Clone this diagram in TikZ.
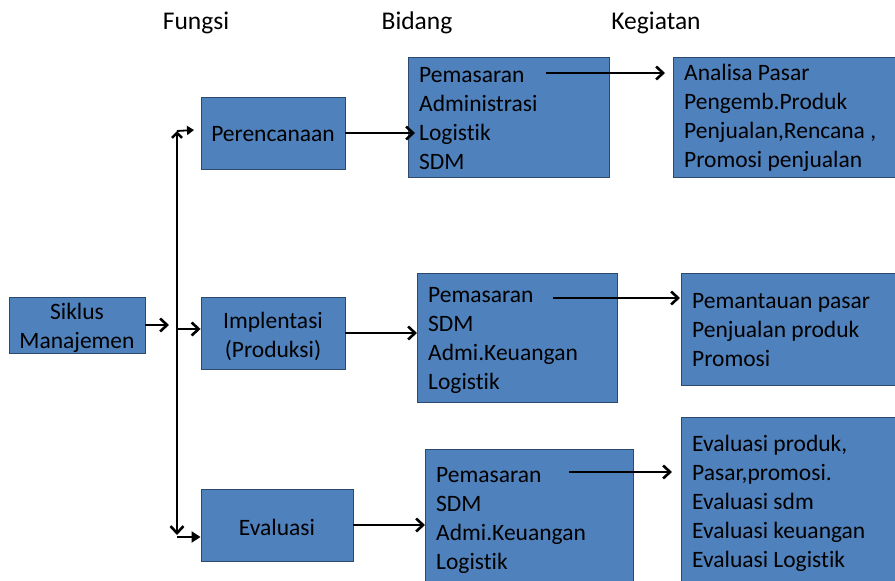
\documentclass[tikz,border=0pt]{standalone}
\usepackage{fontspec}
\setmainfont{Carlito}[Ligatures=NoCommon]
\usetikzlibrary{arrows.meta}
\definecolor{boxblue}{HTML}{4F81BD}
\definecolor{boxline}{HTML}{2C4A6E}
\begin{document}
\begin{tikzpicture}[x=1pt,y=-1pt,
  box/.style={draw=boxline, line width=0.9pt, fill=boxblue, inner sep=0pt},
  lbox/.style={box, anchor=north west},
  txt/.style={inner sep=0pt, font=\fontsize{23.5}{29}\selectfont},
  ltxt/.style={txt, anchor=west, align=left, xshift=11pt},
  ctxt/.style={txt, align=center, yshift=-3pt},
  hdr/.style={font=\fontsize{25.5}{29}\selectfont},
  barb/.tip={Straight Barb[length=7pt,width=13pt]},
  arr/.style={line width=2.6pt, -barb},
]
\useasboundingbox (0,0) rectangle (895,581);
\clip (0,0) rectangle (895,581);

% headers
\node[hdr] (hf) at (196,23) {Fungsi};
\node[hdr] (hb) at (417,23) {Bidang};
\node[hdr] (hk) at (656,23) {Kegiatan};

% left column
\node[box, minimum width=136pt, minimum height=56pt] (siklus) at (77,325) {};
\node[ctxt] (siklus-t) at (siklus.center) {Siklus\\Manajemen};
\node[box, minimum width=144pt, minimum height=72pt] (perenc) at (273,133) {};
\node[ctxt, yshift=2pt] (perenc-t) at (perenc.center) {Perencanaan};
\node[box, minimum width=144pt, minimum height=72pt] (impl) at (273,333) {};
\node[ctxt] (impl-t) at (impl.center) {Implentasi\\(Produksi)};
\node[box, minimum width=152pt, minimum height=72pt] (eval) at (277,525) {};
\node[ctxt, yshift=1pt] (eval-t) at (eval.center) {Evaluasi};

% bidang
\node[lbox, minimum width=201pt, minimum height=120pt] (b1) at (408,57) {};
\node[ltxt, yshift=-1pt] (b1-t) at (b1.west) {Pemasaran\\Administrasi\\Logistik\\SDM};
\node[lbox, minimum width=200pt, minimum height=129pt] (b2) at (417,273) {};
\node[ltxt, yshift=-2.5pt] (b2-t) at (b2.west) {Pemasaran\\SDM\\Admi.Keuangan\\Logistik};
\node[lbox, minimum width=208pt, minimum height=137pt] (b3) at (425,449) {};
\node[ltxt, yshift=-3pt] (b3-t) at (b3.west) {Pemasaran\\SDM\\Admi.Keuangan\\Logistik};

% kegiatan
\node[lbox, minimum width=240pt, minimum height=120pt] (k1) at (673,57) {};
\node[ltxt, yshift=-0.5pt] (k1-t) at (k1.west) {Analisa Pasar\\Pengemb.Produk\\Penjualan,Rencana ,\\Promosi penjualan};
\node[lbox, minimum width=240pt, minimum height=112pt] (k2) at (681,273) {};
\node[ltxt, yshift=-1pt] (k2-t) at (k2.west) {Pemantauan pasar\\Penjualan produk\\Promosi};
\node[lbox, minimum width=240pt, minimum height=168pt] (k3) at (681,417) {};
\node[ltxt, yshift=-2pt] (k3-t) at (k3.west) {Evaluasi produk,\\Pasar,promosi.\\Evaluasi sdm\\Evaluasi keuangan\\Evaluasi Logistik};

% coordinates
\coordinate (sk) at (169,322);
\coordinate (bt) at (177,131);
\coordinate (bb) at (177,535);
\coordinate (bm) at (177,329);
\coordinate (bh) at (177,537);
\coordinate (tp) at (194,130);
\coordinate (s1) at (546,73);
\coordinate (s2) at (553,298);
\coordinate (s3) at (569,472);

% connectors
\draw[arr] (siklus.east) -- (siklus.east -| sk);
\draw[line width=2.6pt, {Straight Barb[length=5pt,width=10pt]}-{Straight Barb[length=7pt,width=13pt]}] (bt) -- (bb);
\draw[line width=1.8pt, -{Triangle[length=7pt,width=9pt]}] (bt) -- (tp);
\draw[arr] (bm) -- (impl.west |- bm);
\draw[line width=2.6pt, -{Triangle[length=9pt,width=11pt]}] (bh) -- (eval.west |- bh);

\draw[arr] (perenc.east) -- ([xshift=7pt]b1.west |- perenc.east);
\draw[arr] (impl.east) -- (impl.east -| b2.west);
\draw[arr] (eval.east) -- (eval.east -| b3.west);

\draw[arr] (s1) -- ([xshift=-8pt]k1.west |- s1);
\draw[arr] (s2) -- ([xshift=-1pt]k2.west |- s2);
\draw[arr] (s3) -- ([xshift=-9pt]k3.west |- s3);
\end{tikzpicture}
\end{document}
